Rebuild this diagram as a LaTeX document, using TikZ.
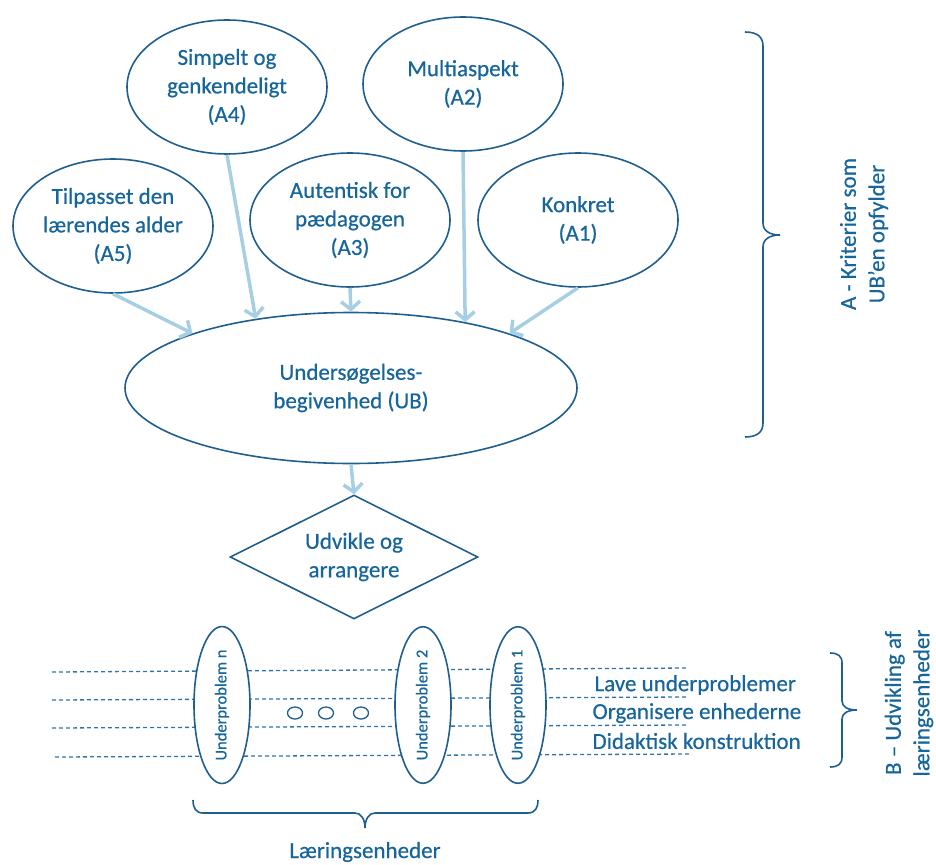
\documentclass[tikz,border=0pt]{standalone}
\usepackage{fontspec}
\setmainfont{Carlito}[FakeBold=0.5]
\usepackage{graphicx}
\usetikzlibrary{shapes.geometric}
\usetikzlibrary{arrows.meta}

\definecolor{ubtext}{HTML}{17669B}
\definecolor{ubline}{HTML}{1F5F8F}
\definecolor{ubarrow}{HTML}{A7CFE4}
\definecolor{ubdash}{HTML}{2F74A8}

\tikzset{
  crit/.style={draw=ubline, line width=1.6pt, ellipse, fill=white, text=ubtext,
    align=center, inner sep=0pt, minimum width=200pt, minimum height=134pt,
    font=\fontsize{23}{28.5}\selectfont},
  subprob/.style={draw=ubline, line width=1.6pt, ellipse, fill=white, text=ubtext,
    inner sep=0pt, minimum width=56pt, minimum height=146pt,
    font=\fontsize{16.5}{20}\selectfont},
  feed/.style={draw=ubarrow, line width=3.5pt, -{Straight Barb[length=8pt,width=19pt]}},
  dashline/.style={draw=ubdash, line width=1.3pt, dash pattern=on 4pt off 3pt},
  brc/.style={draw=ubline, line width=1.6pt},
  lbl/.style={text=ubtext, align=center, font=\fontsize{23}{28.5}\selectfont}
}

\begin{document}
\begin{tikzpicture}[x=1pt, y=-1pt]
  \useasboundingbox (0,0) rectangle (936,864);

  % criteria
  \node[crit] (a4) at (227,87) {Simpelt og\\genkendeligt\\(A4)};
  \node[crit] (a2) at (463,84) {Multiaspekt\\(A2)};
  \node[crit] (a5) at (113,226) {Tilpasset den\\lærendes alder\\(A5)};
  \node[crit] (a3) at (350,220) {Autentisk for\\pædagogen\\(A3)};
  \node[crit] (a1) at (578,220) {Konkret\\(A1)};

  \node[crit, minimum width=452pt, minimum height=151pt] (ub) at (351,388) {Undersøgelses-\\begivenhed (UB)};

  \path[feed] (a5.south) -- (ub.161);
  \path[feed] (a4.south) -- (ub.144);
  \path[feed] (a3.south) -- (ub.north);
  \path[feed] (a2.south) -- (ub.30);
  \path[feed] (a1.south) -- (ub.19);

  \node[crit, diamond, aspect=2, minimum width=248pt, minimum height=124pt] (dev) at (354,557) {Udvikle og\\arrangere};
  \path[feed] (ub.south) -- (dev.north);

  % learning units
  \coordinate (l1a) at (52,672);  \coordinate (l1b) at (687,668);
  \coordinate (l2a) at (52,700);  \coordinate (l2b) at (687,697);
  \coordinate (l3a) at (52,728);  \coordinate (l3b) at (687,725);
  \coordinate (l4a) at (55,757);  \coordinate (l4b) at (692,754);
  \draw[dashline] (l1a) -- (l1b);
  \draw[dashline] (l2a) -- (l2b);
  \draw[dashline] (l3a) -- (l3b);
  \draw[dashline] (l4a) -- (l4b);

  \node[subprob] (upn) at (222,705) {\rotatebox{90}{Underproblem n}};
  \node[subprob] (up2) at (423,705) {\rotatebox{90}{Underproblem 2}};
  \node[subprob] (up1) at (518,705) {\rotatebox{90}{Underproblem 1}};

  \node[draw=ubline, line width=1.3pt, fill=white, ellipse, minimum width=15pt, minimum height=12pt, inner sep=0pt] (dot1) at (295,713) {};
  \node[draw=ubline, line width=1.3pt, fill=white, ellipse, minimum width=15pt, minimum height=12pt, inner sep=0pt] (dot2) at (326,713) {};
  \node[draw=ubline, line width=1.3pt, fill=white, ellipse, minimum width=15pt, minimum height=12pt, inner sep=0pt] (dot3) at (361,713) {};

  \node[lbl, anchor=west] (make) at (591,685) {Lave underproblemer};
  \node[lbl, anchor=west] (organise) at (589,713) {Organisere enhederne};
  \node[lbl, anchor=west] (didact) at (589,741) {Didaktisk konstruktion};

  % braces
  \coordinate (bAtop) at (745,32);
  \coordinate (bAtip) at (780,235);
  \coordinate (bAbot) at (745,437);
  \draw[brc] (bAtop) .. controls (756,32) and (763,36) .. (763,46) -- (763,223)
    .. controls (763,231) and (770,235) .. (bAtip)
    .. controls (770,235) and (763,239) .. (763,247) -- (763,423)
    .. controls (763,433) and (756,437) .. (bAbot);
  \node[lbl, rotate=90] (critA) at (864,234) {A - Kriterier som\\UB’en opfylder};

  \coordinate (bBtop) at (830,653);
  \coordinate (bBtip) at (857,710);
  \coordinate (bBbot) at (830,767);
  \draw[brc] (bBtop) .. controls (838,653) and (842,656) .. (842,663) -- (842,701)
    .. controls (842,707) and (848,710) .. (bBtip)
    .. controls (848,710) and (842,713) .. (842,719) -- (842,757)
    .. controls (842,764) and (838,767) .. (bBbot);
  \node[lbl, rotate=90] (devB) at (909,703) {B – Udvikling af\\læringsenheder};

  \coordinate (bCleft) at (193,800);
  \coordinate (bCtip) at (365,828);
  \coordinate (bCright) at (538,800);
  \draw[brc] (bCleft) .. controls (193,808) and (196,813) .. (203,813) -- (355,813)
    .. controls (361,813) and (365,819) .. (bCtip)
    .. controls (365,819) and (369,813) .. (375,813) -- (528,813)
    .. controls (535,813) and (538,808) .. (bCright);
  \node[lbl] (units) at (365,852) {Læringsenheder};
\end{tikzpicture}
\end{document}
